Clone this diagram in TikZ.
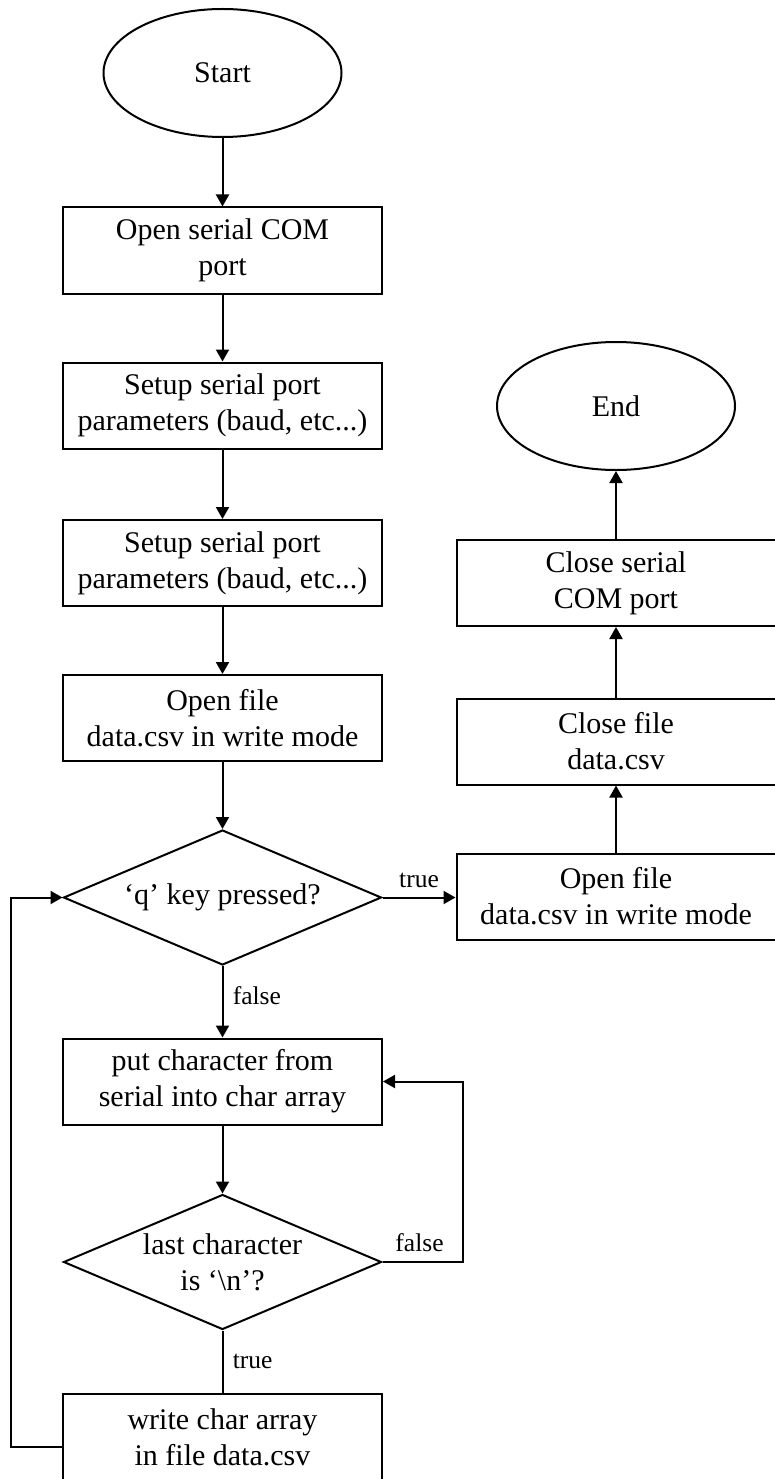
\documentclass[tikz,border=0pt]{standalone}
\usepackage{fontspec}
\setmainfont{Liberation Serif}
\usetikzlibrary{shapes.geometric,arrows.meta}
\begin{document}
\begin{tikzpicture}[x=1pt,y=-1pt,
  every node/.style={font=\fontsize{30}{36}\selectfont, align=center},
  line/.style={line width=2pt},
  arr/.style={line width=2pt, -{Triangle[length=12pt,width=13pt]}},
  procbox/.style={draw, line width=2pt, rectangle, minimum width=319pt, minimum height=86pt, inner sep=0pt},
  term/.style={draw, line width=2pt, ellipse, minimum width=238pt, minimum height=128pt, inner sep=0pt},
  decision/.style={draw, line width=2pt, diamond, aspect=2.355, minimum width=318pt, minimum height=135pt, inner sep=0pt},
  lbl/.style={font=\fontsize{25.5}{30}\selectfont}
]
\useasboundingbox[fill=white] (0,0) rectangle (775,1479);

% left column
\node[term]     (start) at (222.5,73)    {Start};
\node[procbox]  (b1)    at (222.5,250.5) {Open serial COM\\port};
\node[procbox]  (b2)    at (222.5,405.5) {Setup serial port\\parameters (baud, etc...)};
\node[procbox]  (b3)    at (222.5,563)   {Setup serial port\\parameters (baud, etc...)};
\node[procbox]  (b4)    at (222.5,718)   {Open file\\data.csv in write mode};
\node[decision] (q)     at (222.5,897.5) {‘q’ key pressed?};
\node[procbox]  (put)   at (222.5,1081.5){put character from\\serial into char array};
\node[decision] (last)  at (222.5,1262)  {last character\\is ‘\textbackslash n’?};
\node[procbox]  (write) at (222.5,1437)  {write char array\\in file data.csv};

% right column
\node[term]     (end)   at (616,406)     {End};
\node[procbox]  (cs)    at (616,583)     {Close serial\\COM port};
\node[procbox]  (cf)    at (616,741.5)   {Close file\\data.csv};
\node[procbox]  (of)    at (616,896.5)   {Open file\\data.csv in write mode};

% connectors
\draw[arr] (start) -- (b1);
\draw[arr] (b1) -- (b2);
\draw[arr] (b2) -- (b3);
\draw[arr] (b3) -- (b4);
\draw[arr] (b4) -- (q);
\draw[arr] (q.east) -- node[lbl, above=5pt] {true} (q.east -| of.west);
\draw[arr] (q) -- node[lbl, right=6pt, yshift=6pt] {false} (put);
\draw[arr] (put) -- (last);
\draw[arr] (last.east) -- node[lbl, above=6pt, xshift=-3pt] {false} ++(80,0) |- (put.east);
\draw[line] (last) -- node[lbl, right=6pt] {true} (write);
\draw[arr] ([yshift=-10pt]write.west) -- ++(-51,0) |- (q.west);
\draw[arr] (of) -- (cf);
\draw[arr] (cf) -- (cs);
\draw[arr] (cs) -- (end);
\end{tikzpicture}
\end{document}
